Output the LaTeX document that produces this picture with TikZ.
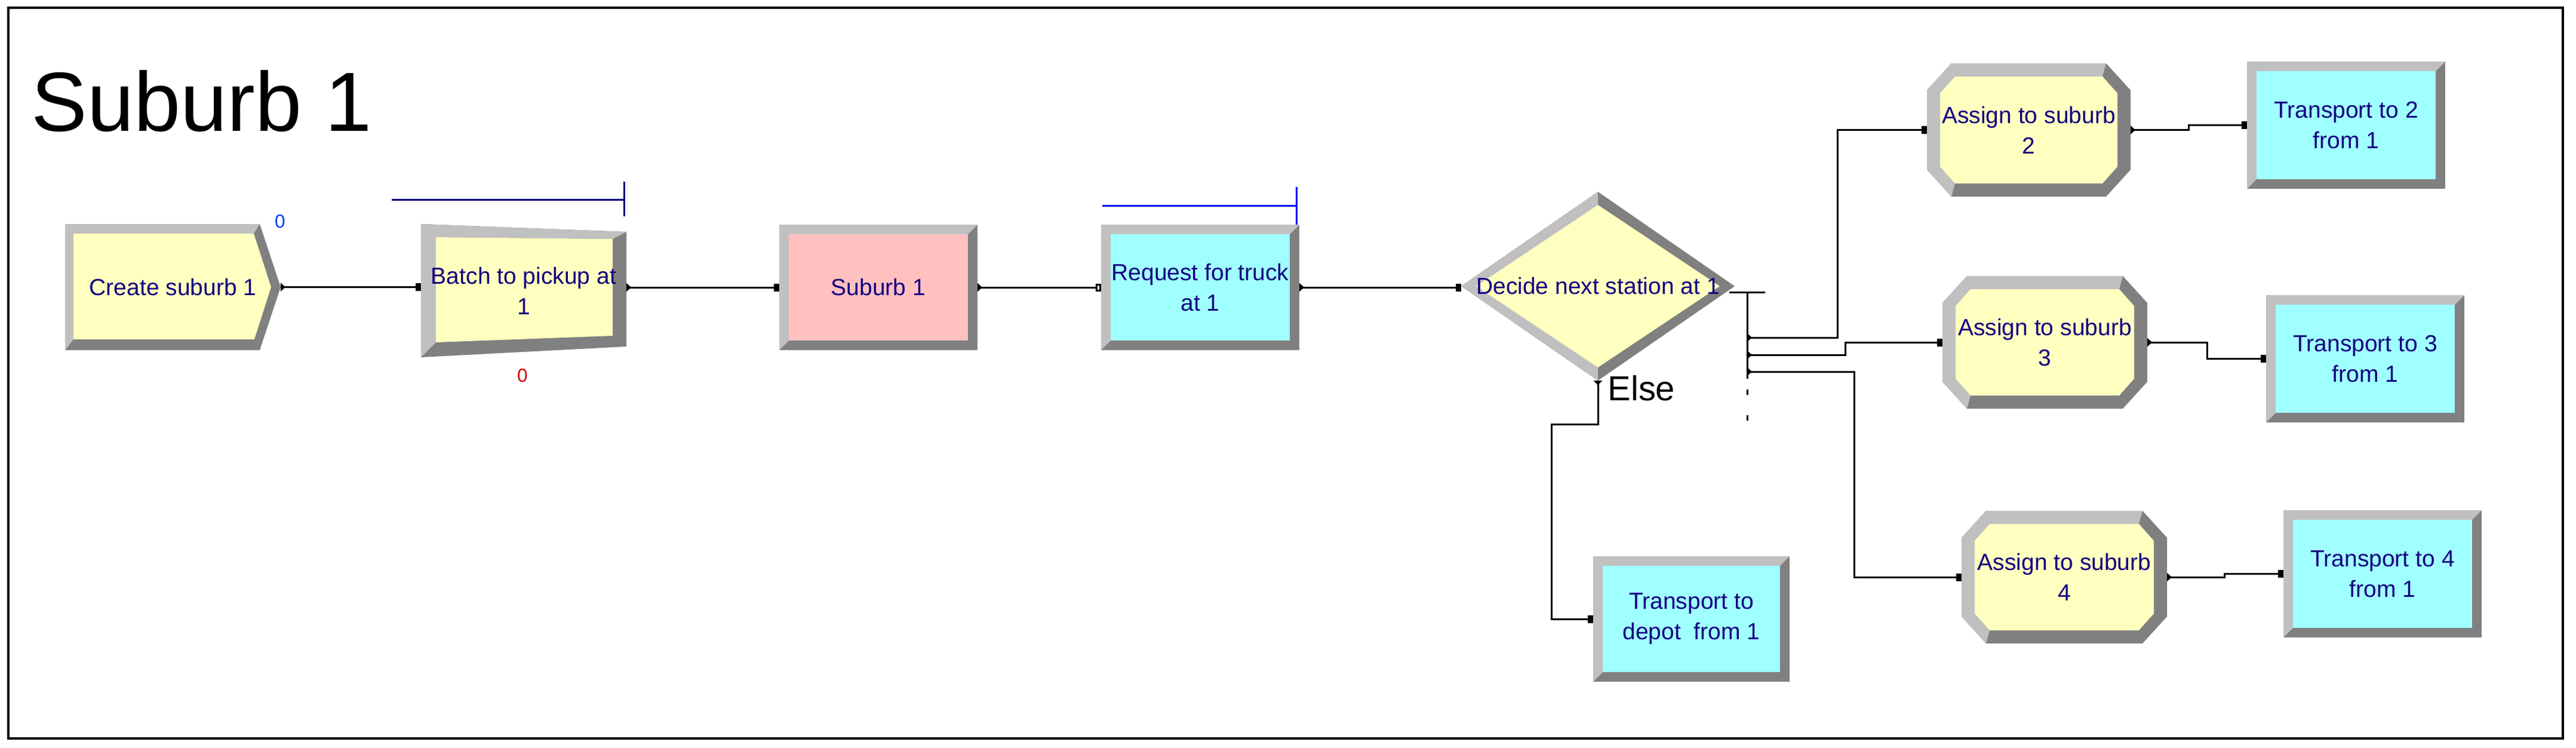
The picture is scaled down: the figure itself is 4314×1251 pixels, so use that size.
\documentclass[tikz,border=0pt]{standalone}
\usepackage{fontspec}
\setmainfont{Liberation Sans}
\usetikzlibrary{arrows.meta,backgrounds}

\definecolor{modyellow}{RGB}{255,255,192}
\definecolor{modpink}{RGB}{255,192,192}
\definecolor{modcyan}{RGB}{160,255,255}
\definecolor{bevlight}{RGB}{192,192,192}
\definecolor{bevdark}{RGB}{128,128,128}
\definecolor{modtext}{RGB}{20,0,130}
\definecolor{barnavy}{RGB}{0,0,128}
\definecolor{barblue}{RGB}{0,0,255}
\definecolor{cntblue}{RGB}{0,60,255}
\definecolor{cntred}{RGB}{210,0,0}

% bevelled frames, drawn behind a module node
\newcommand{\modrect}[2]{%
  \begin{scope}[on background layer]
    \fill[bevdark] (#1.north west) rectangle (#1.south east);
    \fill[bevlight] (#1.south west) -- (#1.north west) -- (#1.north east)
      -- ([shift={(-16,16)}]#1.north east) -- ([shift={(16,16)}]#1.north west)
      -- ([shift={(16,-16)}]#1.south west) -- cycle;
    \fill[#2] ([shift={(16,16)}]#1.north west) rectangle ([shift={(-16,-16)}]#1.south east);
  \end{scope}}
\newcommand{\modoct}[2]{%
  \begin{scope}[on background layer]
    \fill[bevdark] ([shift={(41,0)}]#1.north west) -- ([shift={(-41,0)}]#1.north east)
      -- ([shift={(0,45)}]#1.north east) -- ([shift={(0,-45)}]#1.south east)
      -- ([shift={(-41,0)}]#1.south east) -- ([shift={(41,0)}]#1.south west)
      -- ([shift={(0,-45)}]#1.south west) -- ([shift={(0,45)}]#1.north west) -- cycle;
    \fill[bevlight] ([shift={(41,0)}]#1.south west) -- ([shift={(0,-45)}]#1.south west)
      -- ([shift={(0,45)}]#1.north west) -- ([shift={(41,0)}]#1.north west)
      -- ([shift={(-41,0)}]#1.north east) -- ([shift={(-47,22)}]#1.north east)
      -- ([shift={(47,22)}]#1.north west) -- ([shift={(22,50)}]#1.north west)
      -- ([shift={(22,-50)}]#1.south west) -- ([shift={(47,-22)}]#1.south west) -- cycle;
    \fill[#2] ([shift={(47,22)}]#1.north west) -- ([shift={(-47,22)}]#1.north east)
      -- ([shift={(-22,50)}]#1.north east) -- ([shift={(-22,-50)}]#1.south east)
      -- ([shift={(-47,-22)}]#1.south east) -- ([shift={(47,-22)}]#1.south west)
      -- ([shift={(22,-50)}]#1.south west) -- ([shift={(22,50)}]#1.north west) -- cycle;
  \end{scope}}
\newcommand{\modcreate}[2]{%
  \begin{scope}[on background layer]
    \fill[bevdark] (#1.north west) -- ([shift={(-35,0)}]#1.north east) -- (#1.east)
      -- ([shift={(-35,0)}]#1.south east) -- (#1.south west) -- cycle;
    \fill[bevlight] (#1.south west) -- (#1.north west) -- ([shift={(-35,0)}]#1.north east)
      -- ([shift={(-45,16)}]#1.north east) -- ([shift={(14,16)}]#1.north west)
      -- ([shift={(14,-18)}]#1.south west) -- cycle;
    \fill[#2] ([shift={(14,16)}]#1.north west) -- ([shift={(-45,16)}]#1.north east)
      -- ([shift={(-16,0)}]#1.east) -- ([shift={(-44,-18)}]#1.south east)
      -- ([shift={(14,-18)}]#1.south west) -- cycle;
  \end{scope}}
\newcommand{\modbatch}[2]{%
  \begin{scope}[on background layer]
    \fill[bevdark] (#1.north west) -- ([shift={(0,13)}]#1.north east)
      -- ([shift={(0,-18)}]#1.south east) -- (#1.south west) -- cycle;
    \fill[bevlight] (#1.south west) -- (#1.north west) -- ([shift={(0,13)}]#1.north east)
      -- ([shift={(-23,25)}]#1.north east) -- ([shift={(25,22)}]#1.north west)
      -- ([shift={(25,-25)}]#1.south west) -- cycle;
    \fill[#2] ([shift={(25,22)}]#1.north west) -- ([shift={(-23,25)}]#1.north east)
      -- ([shift={(-23,-36)}]#1.south east) -- ([shift={(25,-25)}]#1.south west) -- cycle;
  \end{scope}}
\newcommand{\moddecide}[2]{%
  \begin{scope}[on background layer]
    \fill[bevdark] (#1.north) -- (#1.east) -- (#1.south) -- (#1.west) -- cycle;
    \fill[bevlight] (#1.south) -- (#1.west) -- (#1.north) -- ([shift={(0,22)}]#1.north)
      -- ([shift={(25,0)}]#1.west) -- ([shift={(0,-22)}]#1.south) -- cycle;
    \fill[#2] ([shift={(0,22)}]#1.north) -- ([shift={(-25,0)}]#1.east)
      -- ([shift={(0,-22)}]#1.south) -- ([shift={(25,0)}]#1.west) -- cycle;
  \end{scope}}

\begin{document}
\begin{tikzpicture}[x=0.1mm, y=-0.1mm,
    module/.style={inner sep=0pt, outer sep=0pt, align=center, text=modtext,
      font=\fontsize{11.1}{14.5}\selectfont},
    flowline/.style={line width=0.3mm, black},
    flowlink/.style={flowline, {Triangle[reversed,length=0.8mm,width=1.4mm]}-{Square[length=0.9mm,width=1.3mm]}},
    openlink/.style={flowline, {Triangle[reversed,length=0.8mm,width=1.4mm]}-{Square[open,length=0.9mm,width=1.3mm]}},
    qbar/.style={line width=0.3mm},
    counter/.style={font=\fontsize{9}{9}\selectfont}]
  \useasboundingbox (0,0) rectangle (4314,1251);
  \draw [line width=0.45mm] (14,13) rectangle (4292,1236);
  \node [anchor=base west, font=\fontsize{40}{40}\selectfont] (title) at (40,219) {Suburb 1};
  % Create
  \node [module, minimum width=36.1mm, minimum height=21.1mm] (create) at (289.5,480.5) {Create suburb 1};
  \modcreate{create}{modyellow}
  \node [counter, text=cntblue] (createcount) at (469,371) {0};
  % Batch
  \node [module, minimum width=34.4mm, minimum height=22.3mm] (batch) at (877,486.5) {Batch to pickup at\\1};
  \modbatch{batch}{modyellow}
  \draw [qbar, barnavy] ([shift={(-49,-41)}]batch.north west) -- ([shift={(-4,-41)}]batch.north east);
  \draw [qbar, barnavy] ([shift={(-4,-71)}]batch.north east) -- ([shift={(-4,-13)}]batch.north east);
  \node [counter, text=cntred] (batchcount) at (875,629) {0};
  % Process
  \node [module, minimum width=33.2mm, minimum height=21mm] (suburb) at (1471,481) {Suburb 1};
  \modrect{suburb}{modpink}
  % Request
  \node [module, minimum width=33.2mm, minimum height=21mm] (request) at (2010,481) {Request for truck\\at 1};
  \modrect{request}{modcyan}
  \draw [qbar, barblue] ([shift={(2,-32)}]request.north west) -- ([shift={(-5,-32)}]request.north east);
  \draw [qbar, barblue] ([shift={(-5,-63)}]request.north east) -- ([shift={(-5,0)}]request.north east);
  % Decide
  \node [module, minimum width=45.8mm, minimum height=31.6mm] (decide) at (2676,479) {Decide next station at 1};
  \moddecide{decide}{modyellow}
  \node [anchor=base west, font=\fontsize{16.5}{16.5}\selectfont] (elselabel) at (2680,670) {Else};
  % Assign
  \node [module, minimum width=34.1mm, minimum height=22.3mm] (assign2) at (3397.5,217.5) {Assign to suburb\\2};
  \modoct{assign2}{modyellow}
  \node [module, minimum width=34.3mm, minimum height=22.2mm] (assign3) at (3424.5,573) {Assign to suburb\\3};
  \modoct{assign3}{modyellow}
  \node [module, minimum width=34.4mm, minimum height=22.2mm] (assign4) at (3457,966) {Assign to suburb\\4};
  \modoct{assign4}{modyellow}
  % Transport
  \node [module, minimum width=33.2mm, minimum height=21.3mm] (trans2) at (3929,209.5) {Transport to 2\\from 1};
  \modrect{trans2}{modcyan}
  \node [module, minimum width=33.2mm, minimum height=21.3mm] (trans3) at (3961,600.5) {Transport to 3\\from 1};
  \modrect{trans3}{modcyan}
  \node [module, minimum width=33.2mm, minimum height=21.3mm] (trans4) at (3990,960.5) {Transport to 4\\from 1};
  \modrect{trans4}{modcyan}
  \node [module, minimum width=32.9mm, minimum height=21mm] (depot) at (2832.5,1036) {Transport to\\depot~~from 1};
  \modrect{depot}{modcyan}
  % connectors
  \draw [flowlink] (create.east) -- (create.east -| batch.west);
  \draw [flowlink] (batch.east |- suburb.west) -- (suburb.west);
  \draw [openlink] (suburb.east) -- (request.west);
  \draw [flowlink] (request.east) -- (request.east -| decide.west);
  \coordinate (fork) at ([shift={(21,10)}]decide.east);
  \draw [flowline] ([shift={(-30,0)}]fork) -- ([shift={(30,0)}]fork);
  \draw [flowline] (fork) -- ++(0,145);
  \draw [flowline] ([shift={(0,163)}]fork) -- ++(0,9);
  \draw [flowline] ([shift={(0,206)}]fork) -- ++(0,9);
  \draw [flowlink] ([shift={(0,76)}]fork) -- ++(151,0) |- (assign2.west);
  \draw [flowlink] ([shift={(0,105)}]fork) -- ++(164,0) |- (assign3.west);
  \draw [flowlink] ([shift={(0,133)}]fork) -- ++(179,0) |- (assign4.west);
  \draw [flowlink] (decide.south) -- ++(0,73) -- ++(-78,0) |- (depot.west);
  \draw [flowlink] (assign2.east) -- ++(97,0) |- (trans2.west);
  \draw [flowlink] (assign3.east) -- ++(100,0) |- (trans3.west);
  \draw [flowlink] (assign4.east) -- ++(96,0) |- (trans4.west);
\end{tikzpicture}
\end{document}
